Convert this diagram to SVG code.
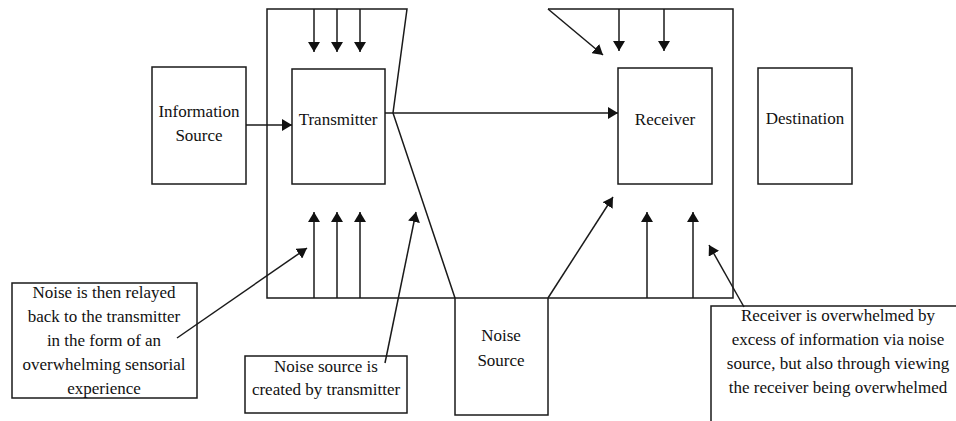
<svg xmlns="http://www.w3.org/2000/svg" width="956" height="421" viewBox="0 0 956 421">
  <style>
    .box { fill: #ffffff; stroke: #1a1a1a; stroke-width: 1.5; }
    .frame { fill: none; stroke: #1a1a1a; stroke-width: 1.5; stroke-linejoin: miter; }
    .wire { fill: none; stroke: #1a1a1a; stroke-width: 1.5; }
    .arr { fill: none; stroke: #1a1a1a; stroke-width: 1.5; marker-end: url(#head); }
    text { font-family: "Liberation Serif", "Times New Roman", serif; font-size: 17px; fill: #111111; text-anchor: middle; }
  </style>
  <defs>
    <marker id="head" markerUnits="userSpaceOnUse" markerWidth="10" markerHeight="12" refX="10" refY="6" orient="auto">
      <path d="M0,0 L10,6 L0,12 z" fill="#111111"/>
    </marker>
  </defs>
  <rect width="956" height="421" fill="#ffffff"/>

  <!-- frame around the transmitter side and receiver side -->
  <g id="frames">
    <path class="frame" d="M267,9 L407,9 L393,113 L455,298 L267,298 Z"/>
    <path class="frame" d="M548,9 L733,9 L733,298 L548,298"/>
  </g>

  <g id="information-source">
    <rect class="box" x="152" y="67" width="94" height="117"/>
    <text x="199" y="117">Information</text>
    <text x="199" y="141">Source</text>
  </g>

  <g id="transmitter">
    <rect class="box" x="292" y="69" width="93" height="115"/>
    <text x="338" y="125">Transmitter</text>
  </g>

  <g id="receiver">
    <rect class="box" x="618" y="68" width="94" height="116"/>
    <text x="665" y="125">Receiver</text>
  </g>

  <g id="destination">
    <rect class="box" x="758" y="68" width="94" height="116"/>
    <text x="805" y="124">Destination</text>
  </g>

  <g id="noise-source">
    <rect class="box" x="455" y="298" width="93" height="117"/>
    <text x="501" y="341">Noise</text>
    <text x="501" y="366">Source</text>
  </g>

  <g id="note-relayed">
    <rect class="box" x="12" y="283" width="185" height="115"/>
    <text x="104" y="298">Noise is then relayed</text>
    <text x="104" y="322">back to the transmitter</text>
    <text x="104" y="346">in the form of an</text>
    <text x="104" y="370">overwhelming sensorial</text>
    <text x="104" y="394">experience</text>
  </g>

  <g id="note-created">
    <rect class="box" x="245" y="356" width="162" height="57"/>
    <text x="326" y="372">Noise source is</text>
    <text x="326" y="395">created by transmitter</text>
  </g>

  <g id="note-overwhelmed">
    <rect class="box" x="711" y="306" width="260" height="130"/>
    <text x="838" y="321">Receiver is overwhelmed by</text>
    <text x="838" y="345">excess of information via noise</text>
    <text x="838" y="369">source, but also through viewing</text>
    <text x="838" y="393">the receiver being overwhelmed</text>
  </g>

  <g id="connectors">
    <!-- message path -->
    <line class="arr" x1="246" y1="125" x2="292" y2="125"/>
    <line class="arr" x1="385" y1="113" x2="618" y2="113"/>
    <!-- inputs into the transmitter from above -->
    <line class="arr" x1="314" y1="9" x2="314" y2="52"/>
    <line class="arr" x1="337" y1="9" x2="337" y2="52"/>
    <line class="arr" x1="360" y1="9" x2="360" y2="52"/>
    <!-- inputs into the transmitter from below -->
    <line class="arr" x1="314" y1="298" x2="314" y2="212"/>
    <line class="arr" x1="337" y1="298" x2="337" y2="212"/>
    <line class="arr" x1="360" y1="298" x2="360" y2="212"/>
    <!-- inputs into the receiver from above -->
    <line class="arr" x1="548" y1="9" x2="603" y2="55"/>
    <line class="arr" x1="619" y1="9" x2="619" y2="51"/>
    <line class="arr" x1="664" y1="9" x2="664" y2="51"/>
    <!-- inputs into the receiver from below -->
    <line class="arr" x1="548" y1="298" x2="613" y2="197"/>
    <line class="arr" x1="647" y1="298" x2="647" y2="212"/>
    <line class="arr" x1="693" y1="298" x2="693" y2="212"/>
    <!-- annotation pointers -->
    <line class="arr" x1="177" y1="338" x2="307" y2="248"/>
    <line class="arr" x1="385" y1="363" x2="416" y2="212"/>
    <line class="arr" x1="744" y1="307" x2="709" y2="245"/>
  </g>
</svg>
